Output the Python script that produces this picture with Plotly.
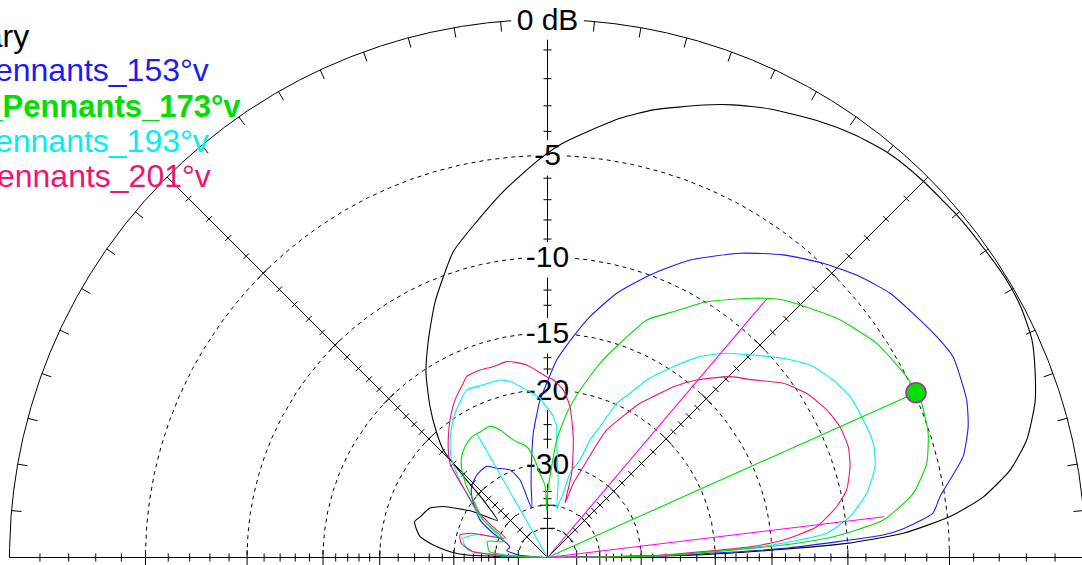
import numpy as np
import plotly.graph_objects as go

# ---------------- data (elevation angle in degrees, gain in dB) ----------------
ref_el = [0, 1.0, 1.9, 2.7, 3.9, 5.8, 7.9, 10.7, 13.8, 17.6, 21.0, 24.2, 27.8, 31, 35, 40, 45, 48.4,
          50.1, 54, 58.0, 63.6, 67.7, 71.0, 76.7, 80.6, 85.6, 88.3, 91.6, 96.9, 101.9, 107.1, 113.7,
          118.7, 123.4, 127.9, 131.7, 134.1, 136.2, 138.2, 143.5, 148.4, 154.0, 157.2, 162.3, 164.9,
          168.1, 170.7, 173.8, 176.6, 178.2, 180]
ref_db = [-99, -22, -14.9, -10.05, -7.06, -4.89, -3.46, -2.29, -1.48, -0.87, -0.51, -0.22, -0.08, -0.05,
          -0.1, -0.14, -0.2, -0.25, -0.3, -0.5, -0.78, -1.23, -1.63, -2.01, -2.69, -3.25, -4.10, -4.55,
          -5.26, -6.49, -7.71, -8.91, -11.24, -13.29, -15.29, -17.75, -20.14, -21.95, -26.9, -31.4, -37,
          -31.1, -26.3, -24.7, -23.9, -23.4, -23.9, -24.5, -26.5, -29.3, -32.6, -99]

p153_el = [0, 1.0, 2.2, 3.84, 4.46, 6.58, 8.81, 13.64, 17.28, 20.59, 26.34, 29.57, 33.75, 37.65, 41.94,
           46.87, 52.1, 57.67, 64.4, 70.06, 75.32, 79.99, 83.34, 87.33, 90.26, 92.7, 96.5, 98.9, 102.5,
           107.8, 109.5, 113.2, 119.7, 123.8, 130.6, 137.0, 141.3, 150.9, 155.9, 160.8, 165, 170, 175, 180]
p153_db = [-99, -25, -14.1, -8.07, -7.2, -5.61, -5.21, -3.94, -3.43, -3.15, -2.97, -3.16, -3.47, -3.74,
           -4.24, -4.95, -5.81, -6.89, -8.39, -9.99, -11.63, -13.53, -15.16, -17.18, -19.35, -21.05, -25.0,
           -28.53, -33.6, -40.2, -32.25, -29.7, -28.4, -27.3, -27.45, -28.25, -29.4, -33.3, -37.8, -43.3,
           -45, -44, -50, -99]

p173_el = [0, 1.0, 3.03, 4.16, 6.37, 9.95, 13.95, 18.06, 22.4, 24.1, 26.72, 33.05, 39.6, 47.52, 51.55,
           58.1, 62.9, 67.3, 71.3, 74.87, 79.0, 82.4, 85.5, 87.4, 90.0, 90.8, 92.0, 95.1, 98.0, 100.6,
           106.2, 110.4, 113.6, 118.2, 122.1, 126.7, 130.4, 134.4, 138.8, 141.3, 149.7, 155, 160, 165,
           170, 174, 177, 180]
p173_db = [-99, -26, -14.13, -10.81, -7.98, -6.36, -5.49, -5.07, -4.89, -4.93, -5.00, -5.40, -6.18, -7.42,
           -8.33, -9.95, -11.45, -12.65, -14.87, -16.88, -19.71, -22.44, -26.05, -30.5, -36.5, -42, -34.5,
           -31.8, -28.6, -26.8, -25.4, -23.6, -22.7, -22.8, -22.8, -23.35, -24.05, -25.4, -27.65, -29.4,
           -33.96, -40, -42, -37, -37.5, -38, -45, -99]

p193_el = [0, 1.0, 3.2, 4.95, 7.68, 11.37, 15.5, 19.3, 23.53, 28.0, 31.84, 36.25, 40.19, 44.54, 48.73,
           52.79, 56.6, 60.8, 63.33, 65.83, 68.13, 70.1, 71.6, 75.0, 76.2, 77.5, 79, 82, 85.5, 86.0, 88.3,
           91.6, 92.7, 97.1, 102.0, 105.0, 110.4, 115.8, 119.3, 122.7, 126.2, 130.5, 134.5, 137.2, 140.1,
           143.4, 148.8, 153, 157, 162, 167.2, 171, 174.6, 178, 180]
p193_db = [-99, -27, -15, -11.2, -9.73, -8.62, -7.88, -7.61, -7.65, -7.74, -8.06, -8.62, -9.53, -10.69,
           -11.72, -13.0, -14.69, -16.7, -18.43, -19.87, -22.99, -25.04, -28.4, -31.2, -36.0, -38, -41,
           -33.5, -26.05, -24.2, -22.6, -21.4, -20.87, -19.9, -18.8, -18.44, -18.4, -18.23, -18.92, -19.64,
           -20.59, -21.9, -23.5, -25.2, -27.2, -29.5, -32.9, -37, -40, -34, -31.35, -31.8, -32.8, -42, -99]

p201_el = [0, 1.0, 3.05, 4.24, 6.53, 9.96, 12.71, 16.71, 20.22, 24.09, 27.85, 32.35, 36.45, 40.78, 44.73,
           49.95, 53.63, 56.66, 59.04, 61.22, 65.1, 66.9, 68.5, 70.8, 72.1, 74.0, 77.6, 81.5, 84.6, 88.1,
           90.25, 96.2, 101.8, 105.9, 109.8, 114.1, 115.8, 120.4, 125.3, 130.2, 132.7, 136.0, 138.3, 141.5,
           146.1, 150, 155, 158, 162.3, 165.6, 170.6, 175.5, 177.5, 180]
p201_db = [-99, -28, -16.74, -14.11, -11.77, -10.4, -9.65, -9.14, -8.89, -8.90, -9.14, -9.64, -10.42,
           -11.71, -12.68, -14.44, -15.97, -17.63, -18.8, -20.33, -23.03, -26.2, -29.3, -33.0, -38.5, -31.1,
           -25.7, -21.64, -19.95, -19.02, -18.71, -17.53, -16.97, -17.12, -17.04, -17.15, -17.54, -18.53,
           -19.91, -21.49, -22.35, -23.64, -25.53, -28.33, -31.6, -36, -42, -40, -32.8, -30.6, -31.2, -33.9,
           -45, -99]

# cursor / beamwidth / sidelobe markers of the selected (173 deg) trace
cursor_el, cursor_db = 24.1, -4.93
bw_els, bw_db = [6.9, 49.7], -7.93
side_el, side_db = 119.7, -22.76

# scale rings and labels
ring_db = [-5, -10, -15, -20, -30, -40, -50]
label_db = [0, -5, -10, -15, -20, -30]
label_text = ["0 dB", "-5", "-10", "-15", "-20", "-30"]
tick_small_db = [-1, -2, -3, -4, -6, -7, -8, -9, -11, -12, -13, -14, -16, -17, -18, -19,
                 -22, -24, -26, -28, -32, -34, -36, -38, -45]
radial_angles = [0, 45, 90, 135, 180]
circle_tick_angles = list(range(5, 180, 5))

legend_text = ["Primary", "4_Pennants_153°v", "4_Pennants_173°v", "4_Pennants_193°v", "4_Pennants_201°v"]
legend_color = ["#000000", "#1c1cf0", "#00dd00", "#00f0f0", "#f2136f"]
legend_bold = [False, False, True, False, False]
legend_size = [32, 32, 31, 32, 32]

# ---------------- geometry ----------------
W, H = 1082, 565
CX, CY = 547.5, 557.5       # pixel position of the polar origin
R = 538.0                   # pixel radius of the 0 dB circle
FONT = "Liberation Sans, Arial, sans-serif"


def arrl(db):
    """ARRL log scale: radius factor 0.89 per 2 dB."""
    return 0.89 ** (-np.asarray(db, float) / 2.0)


def polar_xy(el, db):
    r = arrl(db)
    t = np.radians(np.asarray(el, float))
    return r * np.cos(t), r * np.sin(t)


lab_y = arrl(label_db) - 2.5 / R
lab_hw = [36 if t == "0 dB" else (16 if len(t) == 2 else 25) for t in label_text]
GAP = 17.5


def in_box(x, y):
    for ly, hw in zip(lab_y, lab_hw):
        if abs(x) * R < hw and abs(y - ly) * R < GAP:
            return True
    return False


def broken(xs, ys):
    ox, oy = [], []
    for x, y in zip(xs, ys):
        if in_box(x, y):
            if ox and ox[-1] is not None:
                ox.append(None); oy.append(None)
        else:
            ox.append(float(x)); oy.append(float(y))
    return ox, oy


fig = go.Figure()


def add_line(xs, ys, color, width=1.0, dash=None, shape="linear"):
    line = dict(color=color, width=width, dash=dash, shape=shape)
    if shape == "spline":
        line["smoothing"] = 0.55
    fig.add_trace(go.Scatter(x=xs, y=ys, mode="lines", line=line,
                             hoverinfo="skip", showlegend=False))


t = np.linspace(0, np.pi, 2001)
# outer 0 dB circle
ox, oy = broken(np.cos(t), np.sin(t))
add_line(ox, oy, "#000000", 1)
# dashed rings
for db in ring_db:
    r = float(arrl(db))
    rx, ry = broken(r * np.cos(t), r * np.sin(t))
    add_line(rx, ry, "#000000", 1, dash="4px,4px")

# radial axes
gx, gy = [], []
gx += [-1.0, 1.0, None]; gy += [0.0, 0.0, None]
for a in (45, 135):
    gx += [0.0, np.cos(np.radians(a)), None]; gy += [0.0, np.sin(np.radians(a)), None]
vy = np.linspace(0, 1, 1200)
vx, vy2 = broken(np.zeros_like(vy), vy)
gx += vx + [None]; gy += vy2 + [None]


def tick(a, db, half_px):
    r = float(arrl(db)); ar = np.radians(a)
    px, py = r * np.cos(ar), r * np.sin(ar)
    nx, ny = -np.sin(ar) * half_px / R, np.cos(ar) * half_px / R
    if in_box(px, py):
        return [], []
    return [px - nx, px + nx, None], [py - ny, py + ny, None]


for a in radial_angles:
    for db in tick_small_db:
        tx, ty = tick(a, db, 4.0); gx += tx; gy += ty
    for db in ring_db:
        tx, ty = tick(a, db, 7.5); gx += tx; gy += ty

# ticks on outer circle (inward)
for a in circle_tick_angles:
    ar = np.radians(a)
    x1, y1 = np.cos(ar), np.sin(ar)
    x2, y2 = (1 - 10 / R) * x1, (1 - 10 / R) * y1
    if in_box(x1, y1) or in_box(x2, y2):
        continue
    gx += [x1, x2, None]; gy += [y1, y2, None]
add_line(gx, gy, "#000000", 1)

# scale labels
fig.add_trace(go.Scatter(x=[0.0] * len(label_db), y=list(lab_y), mode="text", text=label_text,
                         textposition="middle center",
                         textfont=dict(family=FONT, size=30, color="#000000"),
                         hoverinfo="skip", showlegend=False))

# pattern traces
series = [(ref_el, ref_db, legend_color[0]),
          (p153_el, p153_db, legend_color[1]),
          (p193_el, p193_db, legend_color[3]),
          (p201_el, p201_db, legend_color[4]),
          (p173_el, p173_db, legend_color[2])]
for el, db, col in series:
    x, y = polar_xy(el, db)
    add_line(list(x), list(y), col, 1.1, shape="spline")

# -3 dB beamwidth lines, sidelobe line, cursor line
for e in bw_els:
    x, y = polar_xy([0, e], [-99, bw_db])
    x[0] = y[0] = 0.0
    add_line(list(x), list(y), "#ff00ff", 1.1)
x, y = polar_xy([0, side_el], [-99, side_db]); x[0] = y[0] = 0.0
add_line(list(x), list(y), "#00f0f0", 1.1)
x, y = polar_xy([0, cursor_el], [-99, cursor_db]); x[0] = y[0] = 0.0
add_line(list(x), list(y), legend_color[2], 1.1)
cx_, cy_ = polar_xy([cursor_el], [cursor_db])
fig.add_trace(go.Scatter(x=list(cx_), y=list(cy_), mode="markers",
                         marker=dict(size=20, color="#00dd00", line=dict(color="#b02aa8", width=1.5)),
                         hoverinfo="skip", showlegend=False))

# legend (partially off the left edge, as in the original)
leg_right_px = [31, 211, 243, 211, 213]
leg_mid_px = [36, 70.5, 106.5, 140.5, 175.5]
for txt, col, b, xr, ym, fs in zip(legend_text, legend_color, legend_bold, leg_right_px, leg_mid_px,
                                   legend_size):
    fig.add_annotation(x=xr / W, y=1 - ym / H, xref="paper", yref="paper",
                       xanchor="right", yanchor="middle", showarrow=False,
                       text=("<b>%s</b>" % txt) if b else txt,
                       font=dict(family=FONT, size=fs, color=col))

fig.update_layout(
    width=W, height=H, margin=dict(l=0, r=0, t=0, b=0),
    paper_bgcolor="white", plot_bgcolor="white", showlegend=False,
    xaxis=dict(range=[-CX / R, (W - CX) / R], visible=False, fixedrange=True),
    yaxis=dict(range=[(CY - H) / R, CY / R], visible=False, fixedrange=True),
)

fig.write_html("out.html", config={"displayModeBar": False, "staticPlot": True},
               post_script="document.body.style.margin='0';document.body.style.overflow='hidden';")
